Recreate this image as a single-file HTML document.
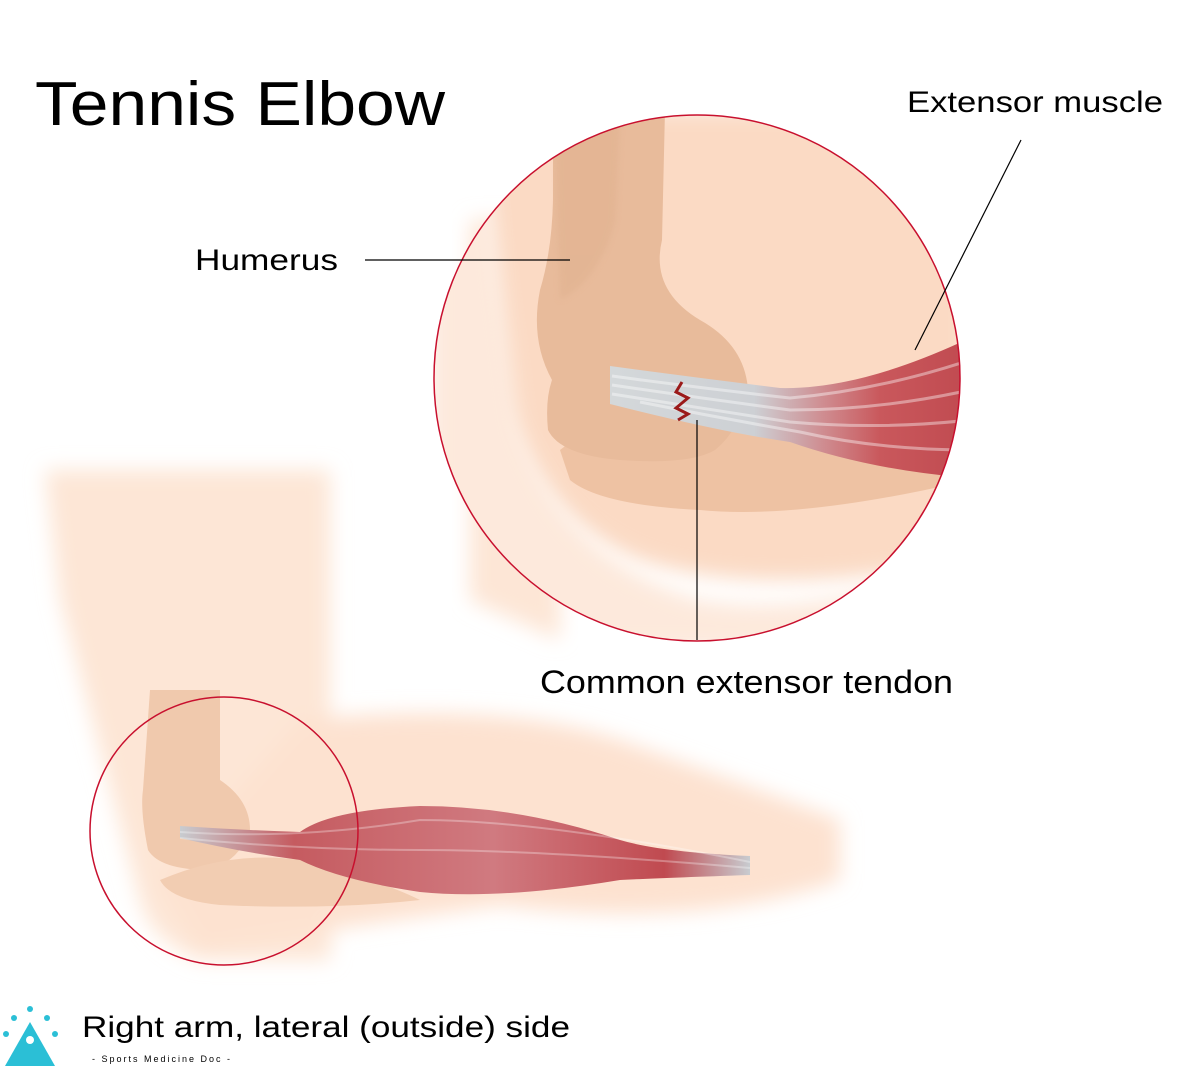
<!DOCTYPE html>
<html><head><meta charset="utf-8"><style>
html,body{margin:0;padding:0;background:#fff;width:1200px;height:1068px;overflow:hidden}
svg{display:block}
text{font-family:"Liberation Sans",sans-serif;fill:#000}
</style></head><body>
<svg width="1200" height="1068" viewBox="0 0 1200 1068" xmlns="http://www.w3.org/2000/svg">
<defs>
<clipPath id="big"><circle cx="697" cy="378" r="263"/></clipPath>
<filter id="blur" x="-20%" y="-20%" width="140%" height="140%"><feGaussianBlur stdDeviation="10"/></filter>
<filter id="blur2"><feGaussianBlur stdDeviation="3"/></filter>
<linearGradient id="mus" x1="0" y1="0" x2="1" y2="0">
<stop offset="0" stop-color="#d4d8da"/><stop offset="0.4" stop-color="#cdd0d4"/><stop offset="0.6" stop-color="#cf8a8e"/><stop offset="0.75" stop-color="#c9585c"/><stop offset="1" stop-color="#c04a50"/></linearGradient>
<linearGradient id="mus2" x1="0" y1="0" x2="1" y2="0">
<stop offset="0" stop-color="#c8ccd0"/><stop offset="0.2" stop-color="#c55b60"/><stop offset="0.55" stop-color="#d07a80"/><stop offset="0.85" stop-color="#c04a50"/><stop offset="1" stop-color="#c8ccd0"/></linearGradient>
</defs>

<g filter="url(#blur)">
<path d="M470 220 L560 220 L560 640 L470 600 Z" fill="#fde6d6"/>
</g>

<g clip-path="url(#big)">
<rect x="430" y="110" width="540" height="540" fill="#fff"/>
<path d="M480 110 L970 110 L970 560 Q760 600 640 560 Q540 520 500 400 Z" fill="#fbdac4" filter="url(#blur)"/>
<path d="M470 110 L480 110 L520 420 Q560 560 700 600 Q820 620 970 560 L970 650 L430 650 L430 110Z" fill="#fde9dc" filter="url(#blur)"/>
<path d="M560 450 Q620 400 800 400 L970 380 L970 480 Q800 520 700 510 Q600 505 570 480Z" fill="#eec2a3"/>
<path d="M553 110 L665 110 L662 240 Q650 290 700 320 Q745 345 748 390 Q740 430 715 450 Q690 465 620 460 Q560 455 548 430 Q545 400 552 380 Q530 340 540 290 Q552 250 553 200Z" fill="#e8bb9b"/>
<path d="M555 110 L620 110 L615 220 Q600 280 560 300 Z" fill="#dfb08e" opacity="0.5" filter="url(#blur2)"/>
<path d="M610 366 Q700 378 780 388 Q860 390 970 338 L970 478 Q870 470 790 442 Q720 432 610 404Z" fill="url(#mus)"/>
<g stroke="#ffffff" stroke-opacity="0.4" stroke-width="3" fill="none">
<path d="M612 376 Q700 388 790 398 Q880 390 970 360"/>
<path d="M612 385 Q700 398 790 410 Q880 410 970 390"/>
<path d="M612 394 Q700 408 790 422 Q880 430 970 420"/>
<path d="M640 402 Q720 418 800 432 Q880 450 970 450"/>
</g>
<path d="M682 382 L676 392 L688 398 L676 408 L688 414 L678 420" stroke="#9b1a1a" stroke-width="3" fill="none"/>
</g>
<circle cx="697" cy="378" r="263" fill="none" stroke="#c8102e" stroke-width="1.5"/>

<g filter="url(#blur)">
<path d="M45 470 L330 470 L330 720 Q300 760 340 780 L330 960 L200 960 Q150 940 140 900 L60 600Z" fill="#fde6d6"/>
<path d="M300 720 Q500 700 620 740 Q760 790 840 820 L840 880 Q700 930 500 905 Q320 930 200 950 L160 880Z" fill="#fde2d0"/>
</g>
<path d="M150 690 L220 690 L220 780 Q250 800 250 830 Q240 860 210 870 Q160 870 148 850 Q140 810 143 790Z" fill="#f0c9ad"/>
<path d="M160 880 Q230 850 300 860 Q380 880 420 900 Q330 910 220 905 Q170 900 160 880Z" fill="#f2cdb2"/>
<path d="M180 826 Q240 830 300 832 Q330 810 420 806 Q520 806 620 840 Q660 852 750 856 L750 875 Q660 878 620 880 Q500 900 420 892 Q340 880 300 860 Q240 852 180 838Z" fill="url(#mus2)"/>
<g stroke="#fff" stroke-opacity="0.3" stroke-width="2" fill="none">
<path d="M180 832 Q300 840 420 820 Q540 820 750 862"/>
<path d="M180 838 Q300 850 420 850 Q540 850 750 868"/>
</g>
<circle cx="224" cy="831" r="134" fill="none" stroke="#c8102e" stroke-width="1.5"/>

<g stroke="#000" stroke-width="1.2">
<line x1="365" y1="260" x2="570" y2="260"/>
<line x1="1021" y1="140" x2="915" y2="350"/>
<line x1="697" y1="420" x2="697" y2="640"/>
</g>

<text x="35" y="125" font-size="62" textLength="410" lengthAdjust="spacingAndGlyphs">Tennis Elbow</text>
<text x="907" y="112" font-size="30" textLength="256" lengthAdjust="spacingAndGlyphs">Extensor muscle</text>
<text x="195" y="270" font-size="30" textLength="143" lengthAdjust="spacingAndGlyphs">Humerus</text>
<text x="540" y="693" font-size="32" textLength="413" lengthAdjust="spacingAndGlyphs">Common extensor tendon</text>
<text x="82" y="1037" font-size="30" textLength="488" lengthAdjust="spacingAndGlyphs">Right arm, lateral (outside) side</text>

<g fill="#2bbfd6">
<circle cx="30" cy="1009" r="3"/><circle cx="14" cy="1018" r="3"/><circle cx="47" cy="1018" r="3"/>
<circle cx="6" cy="1034" r="3"/><circle cx="55" cy="1034" r="3"/>
<path d="M30 1022 L55 1066 L5 1066Z"/>
</g>
<circle cx="30" cy="1040" r="4" fill="#fff"/>
<text x="92" y="1062" font-size="9" letter-spacing="2" fill="#333">- Sports Medicine Doc -</text>
</svg>
</body></html>
